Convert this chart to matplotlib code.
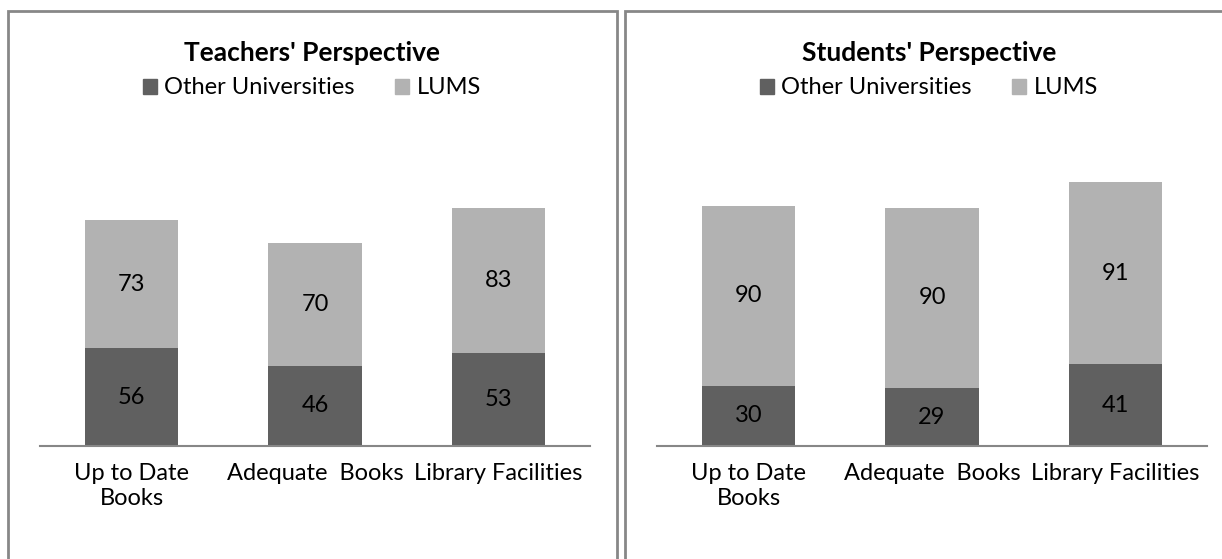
import matplotlib.pyplot as plt
from matplotlib.patches import Rectangle, Patch

plt.rcParams['font.family'] = ['Lato', 'DejaVu Sans']

categories = ["Up to Date\nBooks", "Adequate  Books", "Library Facilities"]
series_names = ["Other Universities", "LUMS"]

teachers_other = [56, 46, 53]
teachers_lums = [73, 70, 83]
students_other = [30, 29, 41]
students_lums = [90, 90, 91]

dark = '#606060'
light = '#b2b2b2'
border = '#878787'

W, H = 1222, 559
fig = plt.figure(figsize=(W / 100, H / 100), dpi=100)


def px(x0, y0, w, h):
    # pixel box (top-left origin) -> figure fraction
    return [x0 / W, 1 - (y0 + h) / H, w / W, h / H]


def panel(left, title, other, lums, ymax):
    # border of the chart area
    fig.patches.append(Rectangle((left / W, -0.1), 609 / W, 1.1 - 11 / H,
                                 transform=fig.transFigure, fill=False,
                                 edgecolor=border, linewidth=2))
    ax = fig.add_axes(px(left + 32, 166, 550, 280))
    x = list(range(len(categories)))
    ax.bar(x, other, width=0.51, color=dark, label=series_names[0])
    ax.bar(x, lums, width=0.51, bottom=other, color=light, label=series_names[1])
    for i in x:
        ax.text(i, other[i] / 2, str(other[i]), ha='center', va='center', fontsize=17)
        ax.text(i, other[i] + lums[i] / 2, str(lums[i]), ha='center', va='center', fontsize=17)
    ax.set_xlim(-0.5, 2.5)
    ax.set_ylim(0, ymax)
    ax.set_xticks(x)
    ax.set_xticklabels(categories, fontsize=17, linespacing=1.28)
    ax.tick_params(axis='x', length=0, pad=12)
    ax.set_yticks([])
    for s in ['top', 'left', 'right']:
        ax.spines[s].set_visible(False)
    ax.spines['bottom'].set_color(border)
    ax.spines['bottom'].set_linewidth(1.5)
    cx = (left + 304) / W
    fig.text(cx, 1 - 53 / H, title, ha='center', va='center',
             fontsize=19, fontweight='bold')
    handles = [Patch(color=dark), Patch(color=light)]
    fig.legend(handles, series_names, loc='center', bbox_to_anchor=(cx, 1 - 88 / H),
               ncol=2, frameon=False, fontsize=17, handlelength=0.6, handleheight=0.6,
               handletextpad=0.3, columnspacing=1.7)
    return ax


panel(8, "Teachers' Perspective", teachers_other, teachers_lums, 160)
panel(625, "Students' Perspective", students_other, students_lums, 140)

fig.savefig('out.png', dpi=100)
